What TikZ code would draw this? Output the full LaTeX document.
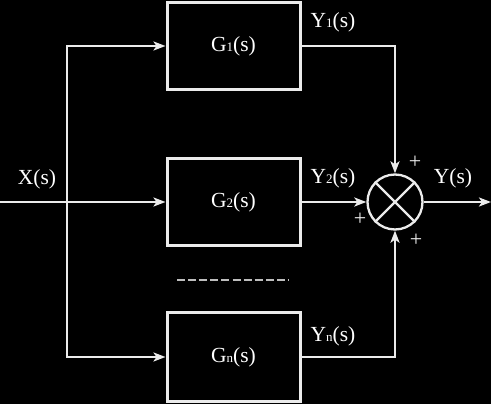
\documentclass[tikz,border=0pt]{standalone}
\usepackage{fontspec}
\setmainfont{Liberation Serif}
\usetikzlibrary{arrows.meta}
\definecolor{ln}{RGB}{235,235,235}
\definecolor{dsh}{RGB}{190,190,190}
\newcommand\sbs[1]{{\fontsize{13}{13}\selectfont #1}}
\begin{document}
\begin{tikzpicture}[x=1pt,y=-1pt,
  blk/.style={draw=ln,line width=3pt,minimum width=133pt,minimum height=87pt,inner sep=0pt,text=white,font=\fontsize{21.5}{21.5}\selectfont},
  lbl/.style={text=white,inner sep=0pt,font=\fontsize{21.5}{21.5}\selectfont},
  pls/.style={text=ln,inner sep=0pt,font=\fontsize{22}{22}\selectfont},
  conn/.style={draw=ln,line width=2.3pt},
  arr/.style={conn,-{Stealth[length=12pt,width=9pt,inset=3pt]}}]
\fill[black] (0,0) rectangle (491,404);
\useasboundingbox (0,0) rectangle (491,404);
\node[blk] (g1) at (233.5,46) {G\sbs{1}(s)};
\node[blk] (g2) at (233.5,202) {G\sbs{2}(s)};
\node[blk,minimum height=89pt] (gn) at (233.5,357) {G\sbs{n}(s)};
\node[circle,draw=ln,line width=2.3pt,minimum size=55pt,inner sep=0pt] (s) at (395,202) {};
\draw[conn] (s.north west) -- (s.south east);
\draw[conn] (s.north east) -- (s.south west);
\coordinate (in) at (0,202);
\coordinate (sp) at (67,202);
\coordinate (out) at (491,202);
\draw[arr] (in) -- (g2.west);
\draw[arr] (sp) |- (g1.west);
\draw[arr] (sp) |- (gn.west);
\draw[arr] (g1.east) -| (s.north);
\draw[arr] (g2.east) -- (s.west);
\draw[arr] (gn.east) -| (s.south);
\draw[arr] (s.east) -- (out);
\coordinate (d1) at (177,280);
\coordinate (d2) at (289,280);
\draw[draw=dsh,line width=2pt,dash pattern=on 8pt off 3.1pt] (d1) -- (d2);
\node[lbl] (lx) at (37,179) {X(s)};
\node[lbl] (ly1) at (333,22) {Y\sbs{1}(s)};
\node[lbl] (ly2) at (333,178) {Y\sbs{2}(s)};
\node[lbl] (lyn) at (333,336) {Y\sbs{n}(s)};
\node[lbl] (ly) at (453,178) {Y(s)};
\node[pls] (p1) at (415,162) {+};
\node[pls] (p2) at (360,219) {+};
\node[pls] (p3) at (416,240) {+};
\end{tikzpicture}
\end{document}
